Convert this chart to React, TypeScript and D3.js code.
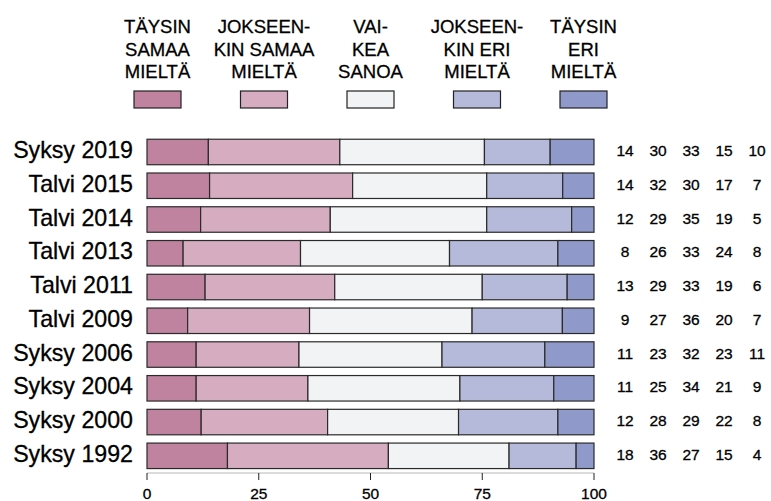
import { useEffect } from 'react';
import * as d3 from 'd3';

// rows, top to bottom
const surveys = [
  'Syksy 2019', 'Talvi 2015', 'Talvi 2014', 'Talvi 2013', 'Talvi 2011',
  'Talvi 2009', 'Syksy 2006', 'Syksy 2004', 'Syksy 2000', 'Syksy 1992',
];

const taysinSamaa = [14, 14, 12, 8, 13, 9, 11, 11, 12, 18];
const jokseenkinSamaa = [30, 32, 29, 26, 29, 27, 23, 25, 28, 36];
const vaikeaSanoa = [33, 30, 35, 33, 33, 36, 32, 34, 29, 27];
const jokseenkinEri = [15, 17, 19, 24, 19, 20, 23, 21, 22, 15];
const taysinEri = [10, 7, 5, 8, 6, 7, 11, 9, 8, 4];

const legendLabels = [
  ['TÄYSIN', 'SAMAA', 'MIELTÄ'],
  ['JOKSEEN-', 'KIN SAMAA', 'MIELTÄ'],
  ['VAI-', 'KEA', 'SANOA'],
  ['JOKSEEN-', 'KIN ERI', 'MIELTÄ'],
  ['TÄYSIN', 'ERI', 'MIELTÄ'],
];
const colors = ['#bf839f', '#d6adc0', '#f2f3f5', '#b5badb', '#8f9aca'];
const xTicks = [0, 25, 50, 75, 100];

const W = 771;
const H = 501;
const font = '"Liberation Sans", Arial, sans-serif';
// slightly heavier text, like the reference rendering
const textStyle = { fill: '#000', stroke: '#000', strokeWidth: 0.3 };

export default function App() {
  useEffect(() => {
    document.body.style.margin = '0';
  }, []);

  const series = [taysinSamaa, jokseenkinSamaa, vaikeaSanoa, jokseenkinEri, taysinEri];

  const x = d3.scaleLinear().domain([0, 100]).range([147, 594]);
  const y = d3.scaleBand<string>()
    .domain(surveys)
    .range([135.1, 472.7])
    .paddingInner(0.245)
    .paddingOuter(0.1225);

  // bars are scaled to the row total (some rows sum to 99 or 102)
  const rows = surveys.map((name, i) => {
    const vals = series.map(s => s[i]);
    const total = d3.sum(vals);
    let acc = 0;
    const segs = vals.map((v, k) => {
      const x0 = (acc / total) * 100;
      acc += v;
      const x1 = (acc / total) * 100;
      return { k, x0, x1 };
    });
    return { name, vals, segs };
  });

  const legendX = d3.scalePoint<number>().domain([0, 1, 2, 3, 4]).range([157.5, 583.5]);
  const valueX = d3.scalePoint<number>().domain([0, 1, 2, 3, 4]).range([625, 757]);

  return (
    <svg width={W} height={H} style={{ display: 'block', background: '#fff', fontFamily: font }}>
      {/* legend */}
      {legendLabels.map((lines, k) => (
        <g key={k} transform={`translate(${legendX(k)},0)`}>
          {lines.map((t, j) => (
            <text key={j} y={33.3 + j * 22.5} textAnchor="middle" fontSize={18.5} style={textStyle}>{t}</text>
          ))}
          <rect x={-23.5} y={91} width={47} height={17} fill={colors[k]} stroke="#222" strokeWidth={1.2} />
        </g>
      ))}

      {/* bars */}
      {rows.map(r => {
        const y0 = y(r.name)!;
        const cy = y0 + y.bandwidth() / 2;
        return (
          <g key={r.name}>
            <text x={133} y={cy + 6} textAnchor="end" fontSize={23.2} style={textStyle}>{r.name}</text>
            {r.segs.map(s => (
              <rect key={s.k} x={x(s.x0)} y={y0} width={x(s.x1) - x(s.x0)} height={y.bandwidth()}
                fill={colors[s.k]} stroke="#2a2a2a" strokeWidth={1.2} />
            ))}
            {r.vals.map((v, k) => (
              <text key={k} x={valueX(k)} y={cy + 4} textAnchor="middle" fontSize={15.5} style={textStyle}>{v}</text>
            ))}
          </g>
        );
      })}

      {/* x axis */}
      <g>
        <line x1={x(0)} x2={x(100)} y1={473} y2={473} stroke="#b8b8b8" strokeWidth={1} />
        {xTicks.map(t => (
          <g key={t} transform={`translate(${x(t)},0)`}>
            <line y1={473} y2={480} stroke="#222" strokeWidth={1} />
            <text y={499} textAnchor="middle" fontSize={15.5} style={textStyle}>{t}</text>
          </g>
        ))}
      </g>
    </svg>
  );
}
